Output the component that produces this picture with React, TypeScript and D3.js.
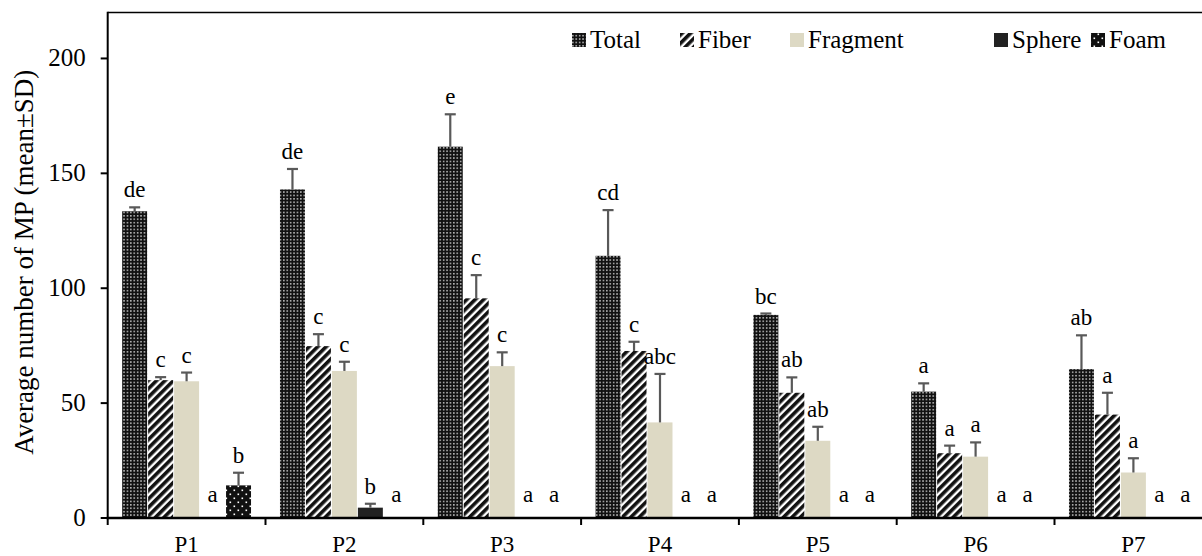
import React from "react";
import * as d3 from "d3";

const categories = ["P1", "P2", "P3", "P4", "P5", "P6", "P7"];
const seriesNames = ["Total", "Fiber", "Fragment", "Sphere", "Foam"];

const totalMean = [133.5, 143, 161.6, 114.1, 88.4, 55, 64.8];
const totalSD = [1.7, 8.9, 14.1, 19.9, 0.6, 3.6, 14.7];
const fiberMean = [60, 74.8, 95.6, 72.7, 54.5, 28.2, 45];
const fiberSD = [1.3, 5.2, 10.1, 4, 6.7, 3.3, 9.5];
const fragmentMean = [59.5, 64, 66.1, 41.6, 33.6, 26.7, 19.8];
const fragmentSD = [3.8, 4, 6, 21.1, 6.1, 6.2, 6.2];
const sphereMean = [0, 4.5, 0, 0, 0, 0, 0];
const sphereSD = [0, 1.7, 0, 0, 0, 0, 0];
const foamMean = [14.2, 0, 0, 0, 0, 0, 0];
const foamSD = [5.5, 0, 0, 0, 0, 0, 0];

const totalLetters = ["de", "de", "e", "cd", "bc", "a", "ab"];
const fiberLetters = ["c", "c", "c", "c", "ab", "a", "a"];
const fragmentLetters = ["c", "c", "c", "abc", "ab", "a", "a"];
const sphereLetters = ["a", "b", "a", "a", "a", "a", "a"];
const foamLetters = ["b", "a", "a", "a", "a", "a", "a"];

const yTicks = [0, 50, 100, 150, 200];

const seriesData = [
  { name: "Total", mean: totalMean, sd: totalSD, letters: totalLetters, fill: "url(#patTotal)" },
  { name: "Fiber", mean: fiberMean, sd: fiberSD, letters: fiberLetters, fill: "url(#patFiber)" },
  { name: "Fragment", mean: fragmentMean, sd: fragmentSD, letters: fragmentLetters, fill: "#DDD9C4" },
  { name: "Sphere", mean: sphereMean, sd: sphereSD, letters: sphereLetters, fill: "#222222" },
  { name: "Foam", mean: foamMean, sd: foamSD, letters: foamLetters, fill: "url(#patFoam)" },
];

const FONT = "'Liberation Serif', 'DejaVu Serif', serif";
const tStyle = { fontFamily: FONT };

export default function App() {
  const W = 1202;
  const H = 556;
  const left = 107.7;
  const right = 1212.3;
  const top = 12.5;
  const bottom = 518;

  const x = d3.scaleBand<string>().domain(categories).range([left, right]).paddingInner(0).paddingOuter(0);
  const bw = x.bandwidth();
  const xs = d3
    .scaleBand<string>()
    .domain(seriesNames)
    .range([bw * 0.0886, bw * 0.9114])
    .paddingInner(0);
  const y = d3.scaleLinear().domain([0, 220]).range([bottom, top]);

  const legendTextX = [590, 698, 808, 1012, 1109];

  return (
    <div style={{ position: "fixed", left: 0, top: 0 }}>
      <svg width={W} height={H} style={{ display: "block", background: "#fff", fontFamily: FONT }}>
        <defs>
          <pattern id="patTotal" width="3.4" height="3.4" patternUnits="userSpaceOnUse">
            <rect width="3.4" height="3.4" fill="#111" />
            <rect x="1" y="1" width="1.3" height="1.3" fill="#fff" />
          </pattern>
          <pattern
            id="patFiber"
            width="6"
            height="6"
            patternUnits="userSpaceOnUse"
            patternTransform="rotate(45)"
          >
            <rect width="6" height="6" fill="#fff" />
            <rect width="3.6" height="6" fill="#111" />
          </pattern>
          <pattern id="patFoam" width="8" height="8" patternUnits="userSpaceOnUse">
            <rect width="8" height="8" fill="#111" />
            <rect x="1.5" y="1.5" width="1.6" height="1.6" fill="#fff" />
            <rect x="5.5" y="5.5" width="1.6" height="1.6" fill="#fff" />
          </pattern>
        </defs>

        {seriesData.map((s) =>
          categories.map((c, i) => {
            const bx = (x(c) as number) + (xs(s.name) as number);
            const v = s.mean[i];
            if (v <= 0) return null;
            return (
              <rect
                key={s.name + c}
                x={bx + 0.5}
                y={y(v)}
                width={xs.bandwidth() - 1}
                height={y(0) - y(v)}
                fill={s.fill}
              />
            );
          })
        )}

        {seriesData.map((s) =>
          categories.map((c, i) => {
            const v = s.mean[i];
            const sd = s.sd[i];
            if (v <= 0) return null;
            const cx = (x(c) as number) + (xs(s.name) as number) + xs.bandwidth() / 2;
            return (
              <g key={"e" + s.name + c} stroke="#595959" strokeWidth={2.2}>
                <line x1={cx} x2={cx} y1={y(v)} y2={y(v + sd)} />
                <line x1={cx - 5.5} x2={cx + 5.5} y1={y(v + sd)} y2={y(v + sd)} />
              </g>
            );
          })
        )}

        {seriesData.map((s) =>
          categories.map((c, i) => {
            const v = s.mean[i];
            const sd = s.sd[i];
            const cx = (x(c) as number) + (xs(s.name) as number) + xs.bandwidth() / 2;
            const ly = Math.min(y(v + sd) - 10, y(0) - 16);
            return (
              <text key={"l" + s.name + c} x={cx} y={ly} textAnchor="middle" fontSize={23} fill="#000" style={tStyle}>
                {s.letters[i]}
              </text>
            );
          })
        )}

        <line x1={left} x2={W} y1={top} y2={top} stroke="#000" strokeWidth={1.6} />

        <line x1={left} x2={left} y1={top - 0.8} y2={bottom} stroke="#000" strokeWidth={2} />
        {yTicks.map((t) => (
          <g key={"yt" + t}>
            <line x1={left - 7} x2={left} y1={y(t)} y2={y(t)} stroke="#000" strokeWidth={2} />
            <text x={left - 22} y={y(t) + 8} textAnchor="end" fontSize={25} fill="#000" style={tStyle}>
              {t}
            </text>
          </g>
        ))}

        <line x1={left - 1} x2={W} y1={bottom} y2={bottom} stroke="#000" strokeWidth={2.4} />
        {categories.map((c) => (
          <g key={"xt" + c}>
            <line
              x1={x(c) as number}
              x2={x(c) as number}
              y1={bottom}
              y2={bottom + 7}
              stroke="#000"
              strokeWidth={2}
            />
            <text x={(x(c) as number) + bw / 2} y={552} textAnchor="middle" fontSize={23} fill="#000" style={tStyle}>
              {c}
            </text>
          </g>
        ))}

        <text
          transform={`translate(33, ${(top + bottom) / 2 - 3}) rotate(-90)`}
          textAnchor="middle"
          fontSize={27}
          fill="#000"
          style={tStyle}
        >
          Average number of MP (mean±SD)
        </text>

        {seriesData.map((s, i) => (
          <g key={"lg" + s.name}>
            <rect x={legendTextX[i] - 18} y={33} width={14} height={14} fill={s.fill} />
            <text x={legendTextX[i]} y={48} fontSize={25} fill="#000" style={tStyle}>
              {s.name}
            </text>
          </g>
        ))}
      </svg>
    </div>
  );
}
